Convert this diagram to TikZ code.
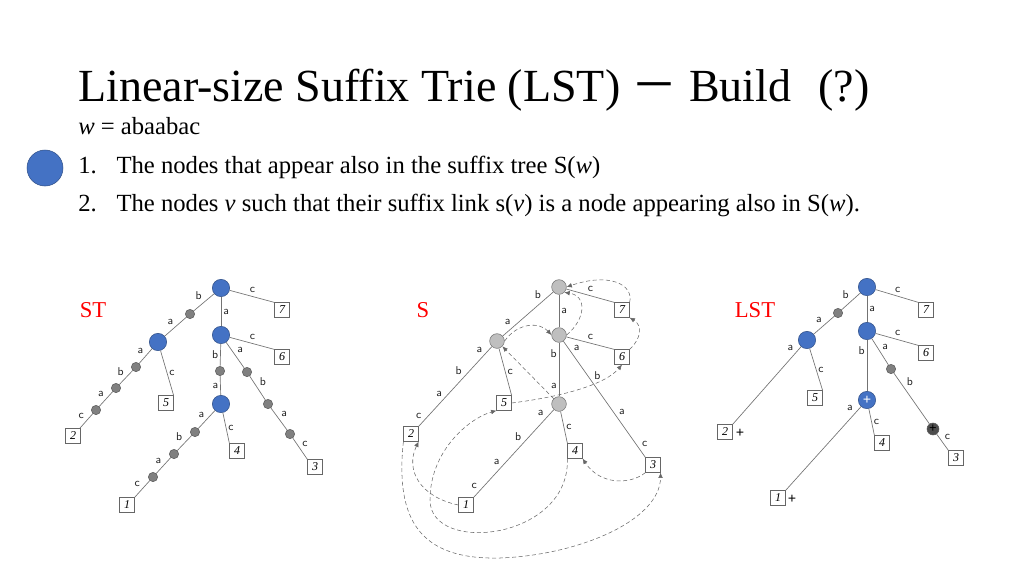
\documentclass[tikz,border=0pt]{standalone}
\usepackage{fontspec}
\setmainfont{Liberation Serif}
\newfontfamily\cjkf{Noto Sans CJK SC}
\usetikzlibrary{arrows.meta}
\definecolor{bl}{RGB}{68,114,196}
\definecolor{gr}{RGB}{128,128,128}
\begin{document}
\begin{tikzpicture}[x=0.75pt,y=-0.75pt,
 bn/.style={circle,fill=bl,draw=bl!70!black,minimum size=13pt,inner sep=0pt},
 gn/.style={circle,fill=gr,draw=gr!70!black,minimum size=7pt,inner sep=0pt},
 sn/.style={circle,fill=black!25,draw=black!55,minimum size=11pt,inner sep=0pt},
 lf/.style={draw=black!60,minimum size=11pt,inner sep=0pt,font=\fontsize{9}{9}\selectfont\rmfamily\itshape},
 e/.style={draw=black!55,line width=0.5pt},
 lb/.style={font=\fontsize{8.5}{8.5}\sffamily,inner sep=1.5pt,text=black!85},
 sl/.style={draw=black!60,densely dashed,line width=0.4pt,-{Latex[length=4pt,width=3.5pt]}},
 hd/.style={red,font=\fontsize{17}{17}\selectfont}]
\useasboundingbox (0,0) rectangle (1024,576);
% header
\node[anchor=base west,font=\fontsize{34.5}{34.5}\selectfont,inner sep=0] (title) at (78,101) {Linear-size Suffix Trie (LST) {\cjkf －} Build\,\, (?)};
\node[anchor=base west,font=\fontsize{18.5}{18.5}\selectfont,inner sep=0] (w) at (78,134) {\textit{w} = abaabac};
\node[anchor=base west,font=\fontsize{18.5}{18.5}\selectfont,inner sep=0] (l1) at (78,173) {1.\hspace{0.8em}The nodes that appear also in the suffix tree S(\textit{w})};
\node[anchor=base west,font=\fontsize{18.5}{18.5}\selectfont,inner sep=0] (l2) at (78,211) {2.\hspace{0.8em}The nodes \textit{v} such that their suffix link s(\textit{v}) is a node appearing also in S(\textit{w}).};
\node[circle,fill=bl,draw=bl!70!black,minimum size=27pt] (dot) at (45,168) {};
% ===== ST =====
\node[hd] (hST) at (93,310) {ST};
\node[bn] (tr) at (221,288) {};
\node[bn] (ta) at (221,335) {};
\node[lf] (t7) at (282,310) {7};
\node[lf] (t6) at (282,357) {6};
\node[gn] (tb) at (190,314) {};
\node[bn] (tab) at (158,342) {};
\node[gn] (tg1) at (136,367) {};
\node[gn] (tg2) at (116,388) {};
\node[gn] (tg3) at (96,410) {};
\node[lf] (t2) at (73,436) {2};
\node[lf] (t5) at (166,403) {5};
\node[gn] (tgb) at (220,371) {};
\node[bn] (taba) at (221,404) {};
\node[gn] (tr1) at (247,372) {};
\node[gn] (tr2) at (268,404) {};
\node[gn] (tr3) at (290,434) {};
\node[lf] (t3) at (315,467) {3};
\node[gn] (tl1) at (195,432) {};
\node[gn] (tl2) at (174,454) {};
\node[gn] (tl3) at (153,477) {};
\node[lf] (t1) at (127,505) {1};
\node[lf] (t4) at (237,451) {4};
\path[e] (tr) -- node[lb,above left] {b} (tb) -- node[lb,above left] {a} (tab)
 -- node[lb,above left] {a} (tg1) -- node[lb,above left] {b} (tg2) -- node[lb,above left] {a} (tg3) -- node[lb,above left] {c} (t2);
\path[e] (tab) -- node[lb,right] {c} (t5.north east);
\path[e] (tr) -- node[lb,above right,pos=.4] {c} (t7.north west);
\path[e] (tr) -- node[lb,right] {a} (ta);
\path[e] (ta) -- node[lb,above right,pos=.4] {c} (t6.north west);
\path[e] (ta) -- node[lb,left] {b} (tgb) -- node[lb,left] {a} (taba);
\path[e] (ta) -- node[lb,above right] {a} (tr1) -- node[lb,above right] {b} (tr2) -- node[lb,above right] {a} (tr3) -- node[lb,above right] {c} (t3.north west);
\path[e] (taba) -- node[lb,above left] {a} (tl1) -- node[lb,above left] {b} (tl2) -- node[lb,above left] {a} (tl3) -- node[lb,above left] {c} (t1.north east);
\path[e] (taba) -- node[lb,right] {c} (t4.north west);
% ===== S =====
\node[hd] (hS) at (423,310) {S};
\node[sn] (sr) at (559,287) {};
\node[sn] (sa) at (559,335) {};
\node[sn] (sab) at (497,341) {};
\node[sn] (saba) at (559,404) {};
\node[lf] (s7) at (622,310) {7};
\node[lf] (s6) at (622,357) {6};
\node[lf] (s5) at (504,403) {5};
\node[lf] (s2) at (411,434) {2};
\node[lf] (s4) at (575,451) {4};
\node[lf] (s3) at (653,465) {3};
\node[lf] (s1) at (466,505) {1};
\path[e] (sr) -- node[lb,above left,pos=.2] {b} node[lb,above left,pos=.8] {a} (sab);
\path[e] (sr) -- node[lb,above right,pos=.4] {c} (s7.north west);
\path[e] (sr) -- node[lb,right] {a} (sa);
\path[e] (sa) -- node[lb,above right,pos=.4] {c} (s6.north west);
\path[e] (sa) -- node[lb,left,pos=.2] {b} node[lb,left,pos=.8] {a} (saba);
\path[e] (sa) -- node[lb,above right,pos=.1] {a} node[lb,above right,pos=.35] {b} node[lb,above right,pos=.65] {a} node[lb,above right,pos=.93] {c} (s3.north west);
\path[e] (sab) -- node[lb,above left,pos=.1] {a} node[lb,above left,pos=.38] {b} node[lb,above left,pos=.65] {a} node[lb,above left,pos=.93] {c} (s2.north east);
\path[e] (sab) -- node[lb,right] {c} (s5.north east);
\path[e] (saba) -- node[lb,above left,pos=.1] {a} node[lb,above left,pos=.38] {b} node[lb,above left,pos=.65] {a} node[lb,above left,pos=.93] {c} (s1.north east);
\path[e] (saba) -- node[lb,right] {c} (s4.north west);
% suffix links
\draw[sl] (s7.north east) .. controls (634,285) and (610,272) .. (sr.east);
\draw[sl] (sa.east) .. controls (585,320) and (588,296) .. (sr.south east);
\draw[sl] (sab.east) .. controls (518,322) and (540,322) .. (sa.west);
\draw[sl] (s6.north east) .. controls (642,338) and (642,325) .. (s7.south east);
\draw[sl] (s5.east) .. controls (560,397) and (605,385) .. (s6.south);
\draw[sl] (saba.north west) -- (sab.south east);
\draw[sl] (s4.south west) .. controls (570,540) and (430,555) .. (430,500) .. controls (430,450) and (470,418) .. (s5.south west);
\draw[sl] (s3.south west) .. controls (630,485) and (600,485) .. (s4.south east);
\draw[sl] (s2.south west) .. controls (395,520) and (420,560) .. (500,558) .. controls (580,555) and (660,520) .. (s3.south east);
\draw[sl] (s1.west) .. controls (420,497) and (405,470) .. (s2.south east);
% ===== LST =====
\node[hd] (hL) at (755,310) {LST};
\node[bn] (lr) at (867,287) {};
\node[bn] (la) at (867,331) {};
\node[gn] (lg) at (838,313) {};
\node[bn] (lab) at (807,340) {};
\node[lf] (l7) at (926,310) {7};
\node[lf] (l6) at (926,353) {6};
\node[lf] (l5) at (815,398) {5};
\node[lf] (l2) at (725,432) {2};
\node[font=\fontsize{11}{11}\selectfont\bfseries,inner sep=0] (p2) at (740,433) {+};
\node[bn,text=white,font=\fontsize{11}{11}\selectfont\bfseries] (laba) at (867,400) {+};
\node[gn] (lgr) at (891,369) {};
\node[gn,fill=gr!60!black,minimum size=9pt,font=\fontsize{10}{10}\selectfont\bfseries] (lgd) at (933,429) {+};
\node[lf] (l3) at (956,458) {3};
\node[lf] (l4) at (882,443) {4};
\node[lf] (l1) at (778,498) {1};
\node[font=\fontsize{11}{11}\selectfont\bfseries,inner sep=0] (p1) at (792,499) {+};
\path[e] (lr) -- node[lb,above left] {b} (lg) -- node[lb,above left] {a} (lab) -- node[lb,above left,pos=.08] {a} (l2.north east);
\path[e] (lab) -- node[lb,right] {c} (l5.north east);
\path[e] (lr) -- node[lb,above right,pos=.4] {c} (l7.north west);
\path[e] (lr) -- node[lb,right] {a} (la);
\path[e] (la) -- node[lb,above right,pos=.4] {c} (l6.north west);
\path[e] (la) -- node[lb,left,pos=.2] {b} (laba);
\path[e] (la) -- node[lb,above right] {a} (lgr) -- node[lb,above right,pos=.3] {b} (lgd) -- node[lb,above right] {c} (l3.north west);
\path[e] (laba) -- node[lb,above left,pos=.08] {a} (l1.north east);
\path[e] (laba) -- node[lb,right] {c} (l4.north west);
\end{tikzpicture}
\end{document}
